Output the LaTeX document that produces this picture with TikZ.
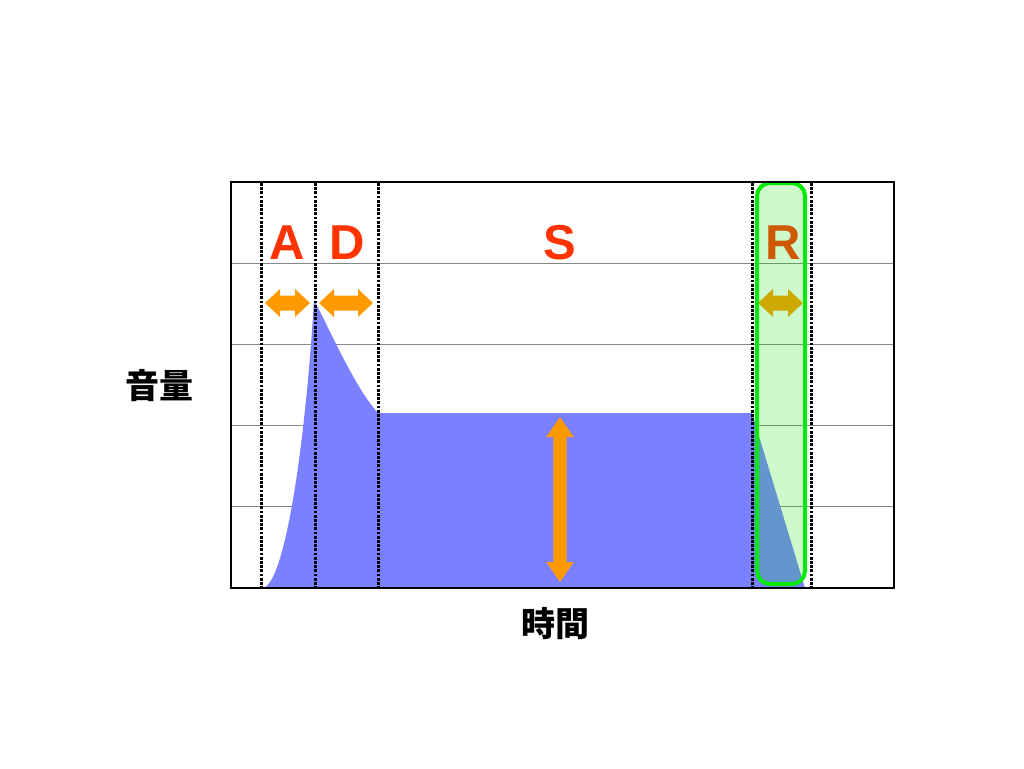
\documentclass[tikz,border=0pt]{standalone}
\usepackage{fontspec}
\setmainfont{Liberation Sans}
\newfontfamily\cjk{Noto Sans CJK JP}
\usetikzlibrary{calc}
\definecolor{envblue}{RGB}{122,128,255}
\definecolor{arrorange}{RGB}{255,153,0}
\definecolor{letred}{RGB}{255,51,0}
\definecolor{rgreen}{RGB}{0,235,0}
\definecolor{rfill}{RGB}{19,231,17}
\tikzset{
  gridline/.style={draw=gray!95, line width=0.9pt},
  dotline/.style={draw=black, line width=3pt, dash pattern=on 2.8pt off 1.4pt},
  letter/.style={text=letred, font=\fontsize{49}{49}\selectfont\bfseries, inner sep=0pt},
  axislabel/.style={text=black, font=\cjk\fontsize{34}{34}\selectfont\bfseries, inner sep=0pt},
  arrowshape/.style={fill=arrorange, draw=none},
}
\newcommand\harrow[3]{% x1, x2, y
  \fill[arrowshape] (#1,#3) -- ++(15,-14) -- ++(0,6.5) -- ($(#2,#3)+(-15,-7.5)$) -- ++(0,-6.5) -- (#2,#3) -- ++(-15,14) -- ++(0,-6.5) -- ($(#1,#3)+(15,7.5)$) -- ++(0,6.5) -- cycle;}
\begin{document}
\begin{tikzpicture}[x=1pt,y=-1pt]
\useasboundingbox (0,0) rectangle (1024,768);
\fill[white] (0,0) rectangle (1024,768);
% grid lines
\foreach \yy in {263,344,425,506} \draw[gridline] (231,\yy) -- (894,\yy);
% envelope
\fill[envblue] (262,588) .. controls (284,588) and (305,450) .. (314,300)
  .. controls (330,330) and (355,388) .. (378,413)
  -- (752,413) -- (805,588) -- cycle;
% dotted dividers
\foreach \xx in {261,315,378,752,811} \draw[dotline] (\xx,183) -- (\xx,588);
% letters
\node[letter] (A) at (287,243) {A};
\node[letter] (D) at (347,243) {D};
\node[letter] (S) at (560,243) {S};
\node[letter] (R) at (783,243) {R};
% horizontal arrows
\harrow{265}{310}{303}
\harrow{319}{373}{303}
\harrow{758}{803}{303}
% vertical S arrow
\fill[arrowshape] (560,417) -- ++(13.7,20) -- ++(-7,0) -- (566.7,562) -- ++(7,0) -- (560,582) -- ++(-13.7,-20) -- ++(7,0) -- (553.3,437) -- ++(-7,0) -- cycle;
% release highlight
\node[draw=rgreen, line width=4pt, fill=rfill, fill opacity=0.21, rounded corners=13pt, minimum width=48pt, minimum height=401pt, inner sep=0pt] (Rbox) at (781,383.5) {};
% frame
\node[draw=black, line width=2pt, minimum width=663pt, minimum height=406pt, inner sep=0pt] (frame) at (562.5,385) {};
% axis labels
\node[axislabel] (vol) at (159,386) {音量};
\node[axislabel] (time) at (555,624) {時間};
\end{tikzpicture}
\end{document}
